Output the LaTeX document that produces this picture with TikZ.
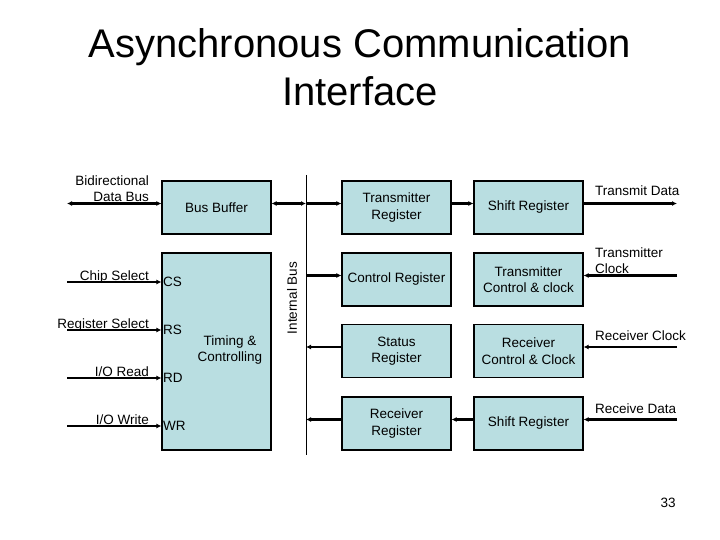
\documentclass[tikz,border=0pt]{standalone}
\usepackage{fontspec}
\setmainfont{Liberation Sans}
\usetikzlibrary{arrows.meta}
\definecolor{boxfill}{RGB}{185,222,225}
\begin{document}
\begin{tikzpicture}[x=1pt,y=-1pt,
  txt/.style={font=\fontsize{13.5}{16.5}\selectfont, inner sep=0pt},
  blk/.style={txt, draw=black, line width=1.2pt, fill=boxfill, minimum width=109pt, minimum height=53pt, align=center},
  arr/.style={line width=2.2pt, -{Latex[length=5pt,width=5pt]}},
  dbl/.style={line width=2.2pt, {Latex[length=5pt,width=5pt]}-{Latex[length=5pt,width=5pt]}},
  pinlbl/.style={txt, anchor=west, xshift=1.5pt}
]
\useasboundingbox (0,0) rectangle (720,540);

% title
\node[font=\fontsize{40}{48.5}\selectfont, inner sep=0pt, align=center, anchor=north] (title) at (360,28)
  {Asynchronous Communication\\Interface};

% blocks
\node[blk] (bb) at (216.5,207.5) {Bus Buffer};
\node[blk, minimum height=197pt] (tc) at (216.5,351.5) {};
\node[txt, align=center] (tctext) at (230,350) {Timing \&\\Controlling};
\node[blk] (tr) at (396.5,207.5) {Transmitter\\Register};
\node[blk] (cr) at (396.5,279.5) {Control Register};
\node[blk] (sr) at (396.5,351) {Status\\Register};
\node[blk] (rr) at (396.5,423.5) {Receiver\\Register};
\node[blk] (tsr) at (528.5,207.5) {Shift Register};
\node[blk] (tcc) at (528.5,279.5) {Transmitter\\Control \& clock};
\node[blk] (rcc) at (528.5,351) {Receiver\\Control \& Clock};
\node[blk] (rsr) at (528.5,423.5) {Shift Register};

% internal bus
\coordinate (ibt) at (306,175);
\coordinate (ibb) at (306,455);
\draw[line width=1pt] (ibt) -- (ibb);
\node[txt, rotate=90] (iblbl) at (292,298) {Internal Bus};

% row coordinates
\coordinate (bbE) at ([yshift=4pt]bb.east);
\coordinate (bbW) at ([yshift=4pt]bb.west);
\coordinate (trW) at ([yshift=4pt]tr.west);
\coordinate (trE) at ([yshift=4pt]tr.east);
\coordinate (crW) at ([yshift=4pt]cr.west);
\coordinate (srW) at ([yshift=4pt]sr.west);
\coordinate (rrW) at ([yshift=4pt]rr.west);
\coordinate (rrE) at ([yshift=4pt]rr.east);
\coordinate (tsrW) at ([yshift=4pt]tsr.west);
\coordinate (tsrE) at ([yshift=4pt]tsr.east);
\coordinate (tccE) at ([yshift=4pt]tcc.east);
\coordinate (rccE) at ([yshift=4pt]rcc.east);
\coordinate (rsrW) at ([yshift=4pt]rsr.west);
\coordinate (rsrE) at ([yshift=4pt]rsr.east);

% data bus
\coordinate (dbL) at (67,203.5);
\draw[dbl] (dbL) -- (bbW);
\node[txt, align=right, anchor=north east] (dblbl) at (149,175.5) {Bidirectional\\Data Bus};

\draw[dbl] (bbE) -- (ibt |- bbE);
\draw[arr] (ibt |- trW) -- (trW);
\draw[arr] (ibt |- crW) -- (crW);
\draw[arr] (srW) -- (ibt |- srW);
\draw[arr] (rrW) -- (ibt |- rrW);
\draw[arr] (trE) -- (tsrW);
\draw[arr] (rsrW) -- (rrE);

% right side signals
\coordinate (txd) at (677,203.5);
\draw[arr] (tsrE) -- (txd);
\node[txt, anchor=base west] (txdlbl) at (595,196) {Transmit Data};
\coordinate (txc) at (677,275.5);
\draw[arr] (txc) -- (tccE);
\node[txt, align=left, anchor=north west] (txclbl) at (595,247.5) {Transmitter\\Clock};
\coordinate (rxc) at (677,347);
\draw[arr] (rxc) -- (rccE);
\node[txt, anchor=base west] (rxclbl) at (595,340) {Receiver Clock};
\coordinate (rxd) at (677,419.5);
\draw[arr] (rxd) -- (rsrE);
\node[txt, anchor=base west] (rxdlbl) at (595,413) {Receive Data};

% left control inputs
\coordinate (csL) at (67,282);
\coordinate (rsL) at (67,330);
\coordinate (rdL) at (67,378);
\coordinate (wrL) at (67,426);
\draw[arr] (csL) -- (csL -| tc.west);
\draw[arr] (rsL) -- (rsL -| tc.west);
\draw[arr] (rdL) -- (rdL -| tc.west);
\draw[arr] (wrL) -- (wrL -| tc.west);
\node[txt, anchor=base east] (cslbl) at (149,280) {Chip Select};
\node[txt, anchor=base east] (rslbl) at (149,328) {Register Select};
\node[txt, anchor=base east] (rdlbl) at (149,376.5) {I/O Read};
\node[txt, anchor=base east] (wrlbl) at (149,424.5) {I/O Write};
\node[pinlbl] (cs) at (tc.west |- csL) {CS};
\node[pinlbl] (rs) at (tc.west |- rsL) {RS};
\node[pinlbl] (rd) at (tc.west |- rdL) {RD};
\node[pinlbl] (wr) at (tc.west |- wrL) {WR};

% page number
\node[font=\fontsize{13.5}{16}\selectfont, inner sep=0pt] (pg) at (668,503) {33};
\end{tikzpicture}
\end{document}
